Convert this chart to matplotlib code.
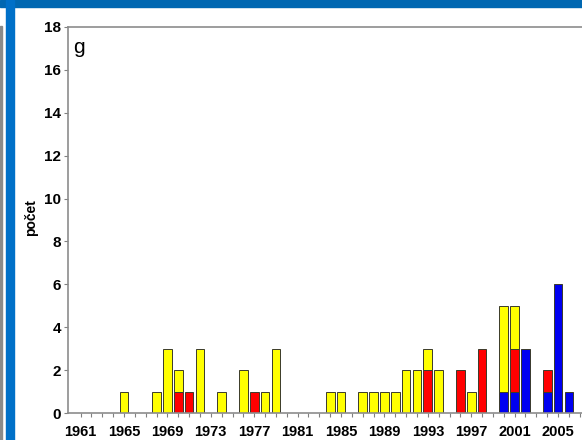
import numpy as np
import matplotlib
matplotlib.use("Agg")
import matplotlib.pyplot as plt
from matplotlib.patches import Rectangle

plt.rcParams['font.family'] = ['Liberation Sans', 'DejaVu Sans']

# ------ Data -----------------------
years = list(range(1961, 2008))

yellow = [0, 0, 0, 0, 1, 0, 0, 1, 3, 1,   # 1961-1970
          0, 3, 0, 1, 0, 2, 0, 1, 3, 0,   # 1971-1980
          0, 0, 0, 1, 1, 0, 1, 1, 1, 1,   # 1981-1990
          2, 2, 1, 2, 0, 0, 1, 0, 0, 4,   # 1991-2000
          2, 0, 0, 0, 0, 0, 0]            # 2001-2007

red = [0, 0, 0, 0, 0, 0, 0, 0, 0, 1,
       1, 0, 0, 0, 0, 0, 1, 0, 0, 0,
       0, 0, 0, 0, 0, 0, 0, 0, 0, 0,
       0, 0, 2, 0, 0, 2, 0, 3, 0, 0,
       2, 0, 0, 1, 0, 0, 0]

blue = [0, 0, 0, 0, 0, 0, 0, 0, 0, 0,
        0, 0, 0, 0, 0, 0, 0, 0, 0, 0,
        0, 0, 0, 0, 0, 0, 0, 0, 0, 0,
        0, 0, 0, 0, 0, 0, 0, 0, 0, 1,
        1, 3, 0, 1, 6, 1, 0]

label_years = list(range(1961, 2006, 4))
# -----------------------------------

W, H = 582, 440
fig = plt.figure(figsize=(W / 100, H / 100), dpi=100)

# blue frame of the slide
fig.patches.append(Rectangle((0, 1 - 7 / H), 1, 7 / H, transform=fig.transFigure,
                             color='#0067B1', zorder=0))
fig.patches.append(Rectangle((6 / W, 0), 8 / W, 1, transform=fig.transFigure,
                             color='#0070C8', zorder=0))
fig.patches.append(Rectangle((0, 0), 1.5 / W, 1 - 26 / H, transform=fig.transFigure,
                             color='#8a8a8a', zorder=0))

left_px, right_px, top_px, bot_px = 68, 590.6, 27, 413
ax = fig.add_axes([left_px / W, 1 - bot_px / H, (right_px - left_px) / W,
                   (bot_px - top_px) / H])

x = np.array(years)
b = np.array(blue)
r = np.array(red)
y = np.array(yellow)

bw = 0.8
ec = '#3a3a2a'
m = b > 0
ax.bar(x[m], b[m], width=bw, color='#0000F0', edgecolor=ec, linewidth=0.7)
m = r > 0
ax.bar(x[m], r[m], bottom=b[m], width=bw, color='#FF0000', edgecolor=ec, linewidth=0.7)
m = y > 0
ax.bar(x[m], y[m], bottom=(b + r)[m], width=bw, color='#FFFF00', edgecolor=ec, linewidth=0.7)

ax.set_xlim(1959.84, 2008)
ax.set_ylim(0, 18)
ax.set_yticks(range(0, 19, 2))
ax.set_yticklabels([str(v) for v in range(0, 19, 2)], fontsize=11, fontweight='bold')
ax.set_xticks(years)
ax.set_xticklabels([str(v) if v in label_years else '' for v in years],
                   fontsize=10.5, fontweight='bold')
ax.tick_params(axis='x', length=3, width=0.8, color='#808080', pad=5.5)
ax.tick_params(axis='y', length=3, width=0.8, color='#808080', pad=2)

for s in ['left', 'bottom', 'top']:
    ax.spines[s].set_color('#8c8c8c')
    ax.spines[s].set_linewidth(1.2)
ax.spines['right'].set_visible(False)

ax.text(0.009, 0.972, 'g', transform=ax.transAxes, fontsize=15, va='top', ha='left')
fig.text(31 / W, 1 - 218 / H, 'počet', rotation=90, fontsize=10, fontweight='bold',
         ha='center', va='center')

fig.savefig('out.png', dpi=100)
